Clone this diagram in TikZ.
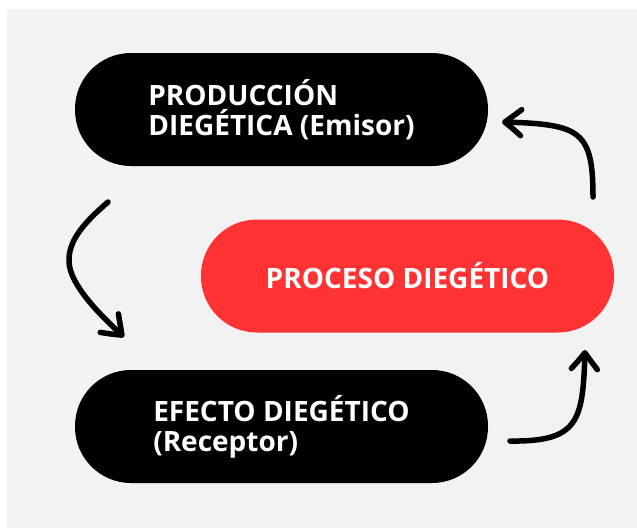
\documentclass[tikz,border=0pt]{standalone}
\usepackage{fontspec}
\setmainfont{Open Sans}
\usetikzlibrary{arrows.meta,bending}
\definecolor{bggray}{RGB}{242,242,242}
\definecolor{procred}{RGB}{255,51,51}
\tikzset{
  pill/.style={rounded corners=56pt, minimum width=413pt, minimum height=113pt,
    text=white, align=left, inner sep=0pt, font=\fontsize{28}{30}\selectfont\bfseries},
  blackpill/.style={pill, fill=black},
  redpill/.style={pill, fill=procred, font=\fontsize{28}{30}\selectfont\bfseries},
  flow/.style={line width=5.5pt, line cap=round, line join=round,
    -{Straight Barb[length=17pt,width=26pt,round,bend]}}
}
\begin{document}
\begin{tikzpicture}[x=1pt,y=-1pt]
\useasboundingbox (0,0) rectangle (637,528);
\fill[white] (0,0) rectangle (637,528);
\fill[bggray] (7,9) rectangle (637,528);
\node[blackpill] (prod) at (281.5,109.5) {PRODUCCIÓN\\DIEGÉTICA (Emisor)};
\node[redpill] (proc) at (407.5,276) {PROCESO DIEGÉTICO};
\node[blackpill] (efec) at (281.5,426.5) {EFECTO DIEGÉTICO\\(Receptor)};
\coordinate (a1s) at (108,202);
\coordinate (a1e) at (124,337);
\coordinate (a2s) at (593,197);
\coordinate (a2e) at (502,122);
\coordinate (a3s) at (510,441);
\coordinate (a3e) at (585,350);
\draw[flow] (a1s) .. controls (85,222) and (68,240) .. (69,262) .. controls (70,285) and (100,315) .. (a1e);
\draw[flow] (a2s) .. controls (593,130) and (580,124) .. (a2e);
\draw[flow] (a3s) .. controls (580,442) and (583,420) .. (a3e);
\end{tikzpicture}
\end{document}
